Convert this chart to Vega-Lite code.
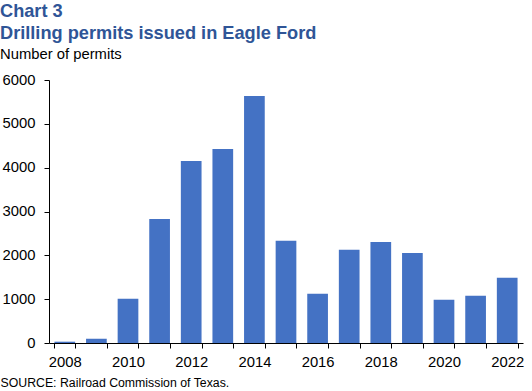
{
  "$schema": "https://vega.github.io/schema/vega-lite/v6.json",
  "width": 474,
  "height": 263,
  "autosize": {"type": "none"},
  "padding": {"left": 49, "top": 80, "right": 9, "bottom": 48},
  "background": "white",
  "title": {
    "text": ["Chart 3", "Drilling permits issued in Eagle Ford"],
    "subtitle": "Number of permits",
    "anchor": "start",
    "frame": "group",
    "dx": -49,
    "offset": 9,
    "font": "Liberation Sans",
    "fontSize": 18.2,
    "fontWeight": "bold",
    "color": "#2F5597",
    "lineHeight": 22.5,
    "subtitleFont": "Liberation Sans",
    "subtitleFontSize": 14.8,
    "subtitleColor": "#000000",
    "subtitlePadding": 4
  },
  "config": {
    "view": {"stroke": null},
    "axis": {
      "labelFont": "Liberation Sans",
      "labelFontSize": 14.8,
      "labelColor": "#000000",
      "domainColor": "#000000",
      "tickColor": "#000000",
      "grid": false
    }
  },
  "data": {
    "values": [
      {"year": "2008", "permits": 30},
      {"year": "2009", "permits": 99},
      {"year": "2010", "permits": 1010},
      {"year": "2011", "permits": 2830},
      {"year": "2012", "permits": 4152},
      {"year": "2013", "permits": 4426},
      {"year": "2014", "permits": 5633},
      {"year": "2015", "permits": 2330},
      {"year": "2016", "permits": 1122},
      {"year": "2017", "permits": 2125},
      {"year": "2018", "permits": 2307},
      {"year": "2019", "permits": 2056},
      {"year": "2020", "permits": 986},
      {"year": "2021", "permits": 1077},
      {"year": "2022", "permits": 1487}
    ]
  },
  "mark": {"type": "bar", "color": "#4472C4"},
  "encoding": {
    "x": {
      "field": "year",
      "type": "ordinal",
      "scale": {"paddingInner": 0.345, "paddingOuter": 0.1725},
      "axis": {
        "labelAngle": 0,
        "tickBand": "extent",
        "tickSize": 5,
        "labelPadding": 6,
        "labelExpr": "toNumber(datum.value) % 2 == 0 ? datum.value : ''",
        "title": "SOURCE: Railroad Commission of Texas.",
        "titleFont": "Liberation Sans",
        "titleFontSize": 12.3,
        "titleFontWeight": "normal",
        "titleColor": "#000000",
        "titleAnchor": "start",
        "titleAlign": "left",
        "titleBaseline": "alphabetic",
        "titleX": -49,
        "titleY": 43
      }
    },
    "y": {
      "field": "permits",
      "type": "quantitative",
      "scale": {"domain": [0, 6000], "nice": false},
      "axis": {
        "values": [0, 1000, 2000, 3000, 4000, 5000, 6000],
        "format": "d",
        "tickSize": 5,
        "labelPadding": 9,
        "title": null
      }
    }
  }
}
